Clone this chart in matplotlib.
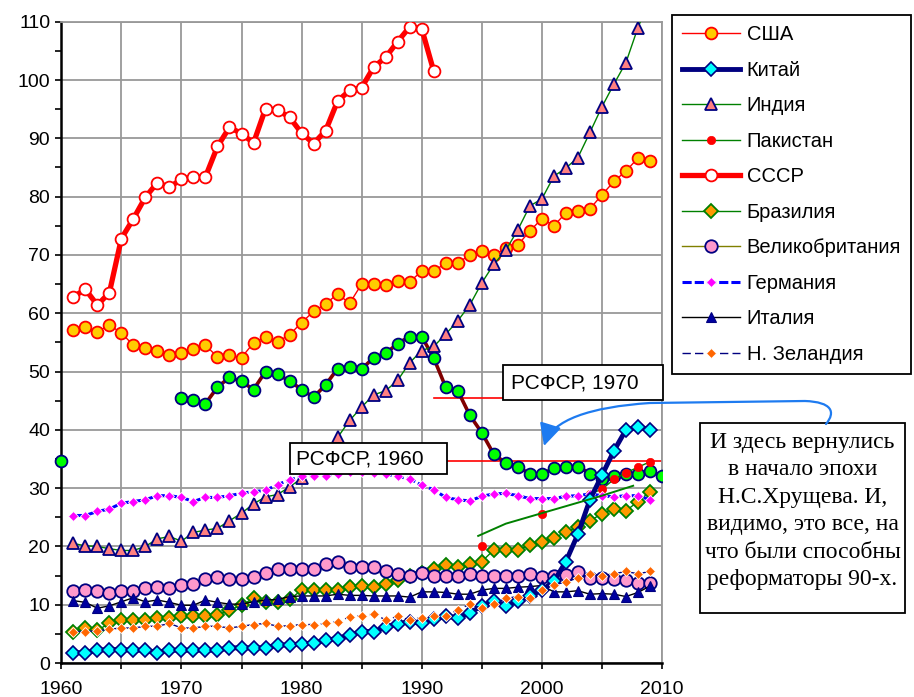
import numpy as np
import pandas as pd
import matplotlib
matplotlib.use("Agg")
import matplotlib.pyplot as plt
from matplotlib.lines import Line2D
from matplotlib.patches import Rectangle, FancyArrowPatch
from matplotlib.path import Path
from matplotlib.ticker import MultipleLocator, FuncFormatter

plt.rcParams['font.family'] = ['Liberation Sans', 'DejaVu Sans']

# ---------------- data ----------------
years = list(range(1961, 2010))  # 1961..2009

usa = [57.2, 57.7, 56.8, 58.0, 56.6, 54.5, 54.1, 53.5, 52.8, 53.1,
       53.8, 54.5, 52.5, 52.8, 52.4, 54.9, 55.9, 55.1, 56.3, 58.4,
       60.3, 61.6, 63.3, 61.7, 65.0, 65.0, 64.8, 65.6, 65.4, 67.2,
       67.2, 68.6, 68.6, 70.0, 70.7, 70.0, 71.1, 71.7, 74.1, 76.2,
       75.0, 77.2, 77.6, 77.9, 80.3, 82.6, 84.4, 86.6, 86.1]

china = [1.8, 1.7, 2.2, 2.3, 2.3, 2.2, 2.2, 1.8, 2.2, 2.2,
         2.2, 2.2, 2.2, 2.6, 2.6, 2.6, 2.6, 3.1, 3.1, 3.3,
         3.4, 3.9, 4.2, 4.8, 5.4, 5.4, 6.2, 6.7, 7.1, 6.9,
         7.5, 8.0, 7.8, 8.6, 9.8, 10.7, 9.8, 10.6, 11.5, 12.5,
         14.0, 17.4, 22.1, 28.0, 32.2, 36.4, 40.0, 40.5, 40.0]

india = [20.5, 20.1, 20.0, 19.6, 19.3, 19.3, 20.0, 21.3, 21.7, 20.9,
         22.4, 22.8, 23.1, 24.4, 25.7, 27.3, 28.5, 28.9, 30.2, 31.7,
         33.5, 36.0, 38.7, 41.6, 43.9, 46.0, 46.7, 48.5, 51.5, 53.6,
         54.3, 56.4, 58.7, 61.4, 65.2, 68.4, 70.8, 74.3, 78.4, 79.6,
         83.5, 84.9, 86.7, 91.0, 95.4, 99.3, 103.0, 109.0, 114.0]

pak_years = [1995, 2000, 2004, 2005, 2006, 2007, 2008, 2009]
pak_values = [20.1, 25.6, 29.0, 29.8, 31.5, 32.6, 33.6, 34.5]
pak_trend_years = [1994.7, 1997.0, 2000.0, 2003.0, 2005.0, 2007.6]
pak_trend_values = [21.8, 23.9, 25.7, 27.5, 28.7, 30.4]

ussr_years = list(range(1961, 1992))
ussr = [62.8, 64.1, 61.4, 63.5, 72.8, 76.2, 79.9, 82.4, 81.6, 83.0,
        83.3, 83.4, 88.6, 91.9, 90.8, 89.2, 95.1, 94.85, 93.6, 90.9,
        89.1, 91.3, 96.4, 98.2, 98.7, 102.2, 103.9, 106.6, 109.1, 108.8,
        101.5]

brazil = [5.4, 6.0, 5.6, 6.8, 7.4, 7.3, 7.4, 7.8, 7.7, 8.1,
          8.0, 8.1, 8.2, 9.1, 9.9, 11.1, 10.5, 10.5, 10.9, 12.5,
          12.5, 12.5, 12.6, 13.0, 13.2, 13.1, 13.6, 14.2, 14.9, 15.4,
          16.2, 16.8, 16.5, 17.0, 17.4, 19.4, 19.4, 19.4, 20.2, 20.8,
          21.4, 22.5, 23.3, 24.4, 25.6, 26.5, 26.1, 27.7, 29.4]

uk = [12.4, 12.6, 12.4, 12.0, 12.4, 12.4, 12.8, 13.0, 12.9, 13.4,
      13.5, 14.4, 14.8, 14.4, 14.4, 14.8, 15.4, 16.1, 16.1, 16.1,
      16.1, 16.9, 17.4, 16.4, 16.4, 16.4, 15.8, 15.3, 14.9, 15.4,
      15.0, 15.0, 15.0, 15.3, 15.0, 15.0, 15.0, 15.0, 15.2, 14.8,
      15.0, 15.1, 15.6, 14.6, 14.5, 14.4, 14.3, 13.8, 13.7]

germany = [25.3, 25.3, 26.0, 26.4, 27.4, 27.7, 28.0, 28.7, 28.7, 28.4,
           27.7, 28.4, 28.4, 28.7, 29.1, 29.4, 29.6, 30.6, 31.4, 32.0,
           32.1, 32.1, 32.5, 32.8, 32.8, 32.6, 32.4, 32.0, 31.6, 30.5,
           29.7, 28.4, 28.0, 27.8, 28.6, 29.0, 29.1, 28.7, 28.2, 28.2,
           28.2, 28.6, 28.7, 29.0, 28.7, 28.5, 28.7, 28.7, 28.0]

italy = [10.7, 10.4, 9.4, 9.8, 10.5, 11.2, 10.5, 10.8, 10.4, 9.9,
         9.9, 10.8, 10.4, 10.1, 10.1, 10.5, 10.8, 10.9, 11.4, 11.5,
         11.5, 11.5, 11.8, 11.6, 11.6, 11.5, 11.5, 11.5, 11.3, 12.2,
         12.2, 12.1, 11.8, 11.8, 12.5, 12.8, 12.8, 13.0, 13.1, 13.3,
         12.2, 12.2, 12.4, 11.8, 11.9, 11.8, 11.4, 12.1, 13.2]

nz = [5.4, 5.4, 5.5, 5.8, 6.0, 6.0, 6.3, 6.3, 6.8, 6.0,
      6.0, 6.3, 6.3, 6.0, 6.3, 6.6, 6.8, 6.3, 6.4, 6.6,
      6.6, 6.8, 7.1, 7.9, 8.1, 8.4, 7.4, 8.0, 7.4, 7.8,
      8.1, 8.1, 9.1, 10.1, 9.4, 10.1, 11.1, 11.4, 11.1, 12.5,
      13.4, 13.9, 14.6, 15.3, 15.0, 15.3, 15.7, 15.3, 15.7]

russia_years = list(range(1970, 2011))
russia = [45.5, 45.1, 44.5, 47.3, 49.0, 48.3, 46.9, 50.0, 49.5, 48.4,
          46.9, 45.6, 47.7, 50.5, 50.7, 50.4, 52.4, 53.1, 54.8, 56.0,
          56.0, 52.3, 47.3, 46.7, 42.5, 39.5, 35.8, 34.3, 33.7, 32.4,
          32.4, 33.4, 33.7, 33.7, 32.5, 31.5, 32.0, 32.5, 32.5, 32.9,
          32.1]
rsfsr_1960_year = 1960
rsfsr_1960 = 34.6
rsfsr_1970 = russia[0]

labels = ["США", "Китай", "Индия", "Пакистан", "СССР", "Бразилия",
          "Великобритания", "Германия", "Италия", "Н. Зеландия"]
xticks_major = [1960, 1970, 1980, 1990, 2000, 2010]

note_text = ("И здесь вернулись\nв начало эпохи\nН.С.Хрущева. И,\n"
             "видимо, это все, на\nчто были способны\nреформаторы 90-х.")

# ---------------- figure ----------------
W, H = 914, 697
fig = plt.figure(figsize=(W / 100, H / 100), dpi=100)


def fx(px):
    return px / W


def fy(py):
    return 1 - py / H


ax = fig.add_axes([fx(61.3), fy(663), fx(662) - fx(61.3), fy(21.7) - fy(663)])
ax.set_xlim(1960, 2010)
ax.set_ylim(0, 110)

ax.xaxis.set_major_locator(MultipleLocator(5))
ax.xaxis.set_major_formatter(FuncFormatter(lambda v, p: f"{int(round(v))}" if int(round(v)) in xticks_major else ""))
ax.yaxis.set_major_locator(MultipleLocator(10))
ax.yaxis.set_minor_locator(MultipleLocator(5))
ax.grid(True, which='major', color='#999999', lw=1.3, zorder=0)
ax.set_axisbelow(True)
ax.tick_params(axis='both', which='both', direction='out', length=4, width=1.2,
               labelsize=14, colors='black')
ax.tick_params(axis='x', pad=9)
ax.tick_params(axis='y', pad=4)
for s in ['left', 'bottom']:
    ax.spines[s].set_color('black')
    ax.spines[s].set_linewidth(1.8)
for s in ['top', 'right']:
    ax.spines[s].set_color('#999999')
    ax.spines[s].set_linewidth(1.3)

# reference lines for RSFSR
ax.plot([1991, 1996.8], [rsfsr_1970, rsfsr_1970], color='red', lw=1.2, zorder=2)
ax.plot([1992.1, 2010], [rsfsr_1960, rsfsr_1960], color='red', lw=1.2, zorder=2)

# Russia (unlabelled)
ax.plot(russia_years, russia, color='#800000', lw=2.6, marker='o', ms=8.5,
        mfc='#00FF00', mec='#000080', mew=1.3, zorder=3)
ax.plot([rsfsr_1960_year], [rsfsr_1960], ls='none', marker='o', ms=8.5,
        mfc='#00FF00', mec='#000080', mew=1.3, zorder=6, clip_on=False)

styles = {
    "США": dict(color='red', lw=1.0, marker='o', ms=8.5, mfc='#FFCC00', mec='red', mew=1.3),
    "Китай": dict(color='#000080', lw=3.5, marker='D', ms=7.3, mfc='#00FFFF', mec='#000080', mew=1.2),
    "Индия": dict(color='#008000', lw=1.0, marker='^', ms=9, mfc='#FF8080', mec='#000080', mew=1.3),
    "Пакистан": dict(color='#008000', lw=1.0, marker='o', ms=6, mfc='red', mec='red', mew=0.5),
    "СССР": dict(color='red', lw=3.8, marker='o', ms=8.5, mfc='white', mec='red', mew=1.3),
    "Бразилия": dict(color='#008000', lw=1.0, marker='D', ms=7, mfc='#FF9900', mec='#008000', mew=1.3),
    "Великобритания": dict(color='#808000', lw=1.0, marker='o', ms=9, mfc='#FF99CC', mec='#000080', mew=1.3),
    "Германия": dict(color='#0000FF', lw=2.2, ls=(0, (3, 1)), marker='D', ms=5.5, mfc='#FF00FF', mec='white', mew=0.6),
    "Италия": dict(color='black', lw=1.0, marker='^', ms=7, mfc='#0000A0', mec='#000080', mew=0.8),
    "Н. Зеландия": dict(color='#000080', lw=1.0, ls=(0, (6, 3)), marker='D', ms=5.5, mfc='#FF6600', mec='white', mew=0.6),
}

pak_series = pd.Series(pak_values, index=pak_years).reindex(range(1995, 2010))

series = {
    "США": (years, usa, 4),
    "Индия": (years, india, 4),
    "Пакистан": (list(pak_series.index), list(pak_series.values), 5),
    "СССР": (ussr_years, ussr, 5),
    "Бразилия": (years, brazil, 5),
    "Великобритания": (years, uk, 5),
    "Германия": (years, germany, 5),
    "Италия": (years, italy, 5),
    "Китай": (years, china, 6),
    "Н. Зеландия": (years, nz, 7),
}
for name, (xs, ys, z) in series.items():
    ax.plot(xs, ys, zorder=z, **styles[name])

# Pakistan trend line
ax.plot(pak_trend_years, pak_trend_values, color='#008000', lw=1.4, zorder=7)

# RSFSR boxes
ax.add_patch(Rectangle((1979.0, 32.4), 13.1, 5.3, facecolor='white', edgecolor='black', lw=1.3, zorder=8))
ax.text(1979.55, 35.0, "РСФСР, 1960", fontsize=15, va='center', ha='left', zorder=9)
ax.add_patch(Rectangle((1996.8, 45.1), 13.3, 6.0, facecolor='white', edgecolor='black', lw=1.3, zorder=8, clip_on=False))
ax.text(1997.4, 48.1, "РСФСР, 1970", fontsize=15, va='center', ha='left', zorder=9)

# legend
handles = [Line2D([], [], **styles[n]) for n in labels]
leg = fig.legend(handles, labels, loc='upper left', bbox_to_anchor=(fx(672), fy(15)),
                 bbox_transform=fig.transFigure, fontsize=14.5, frameon=True, fancybox=False,
                 edgecolor='black', framealpha=1, borderaxespad=0, handlelength=2.9,
                 handletextpad=0.3, labelspacing=0.82, borderpad=0.5)
leg.get_frame().set_linewidth(1.3)

# note box
fig.add_artist(Rectangle((fx(700), fy(613)), fx(905) - fx(700), fy(423) - fy(613),
                         transform=fig.transFigure, facecolor='white', edgecolor='black', lw=1.3))
fig.text(fx(802.5), fy(511), note_text, ha='center', va='center', fontsize=17,
         family=['Liberation Serif', 'DejaVu Serif'], linespacing=1.4)

# curved arrow
pts = [(826, 424), (836, 412), (832, 402), (805, 401), (650, 403),
       (590, 407), (552, 420), (544, 446)]
codes = [Path.MOVETO, Path.CURVE4, Path.CURVE4, Path.CURVE4, Path.LINETO,
         Path.CURVE4, Path.CURVE4, Path.CURVE4]
path = Path([(fx(x), fy(y)) for x, y in pts], codes)
arrow = FancyArrowPatch(path=path, arrowstyle='-|>,head_length=0.9,head_width=0.45',
                        mutation_scale=15, color='#1E7BF0', lw=1.6,
                        transform=fig.transFigure)
fig.add_artist(arrow)

fig.savefig("out.png", dpi=100)
